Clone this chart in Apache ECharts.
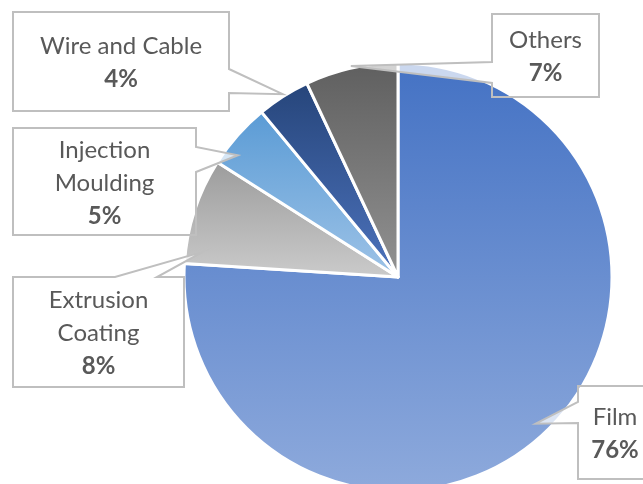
<!DOCTYPE html>
<html>
<head>
<meta charset="utf-8">
<script src="https://cdn.jsdelivr.net/npm/echarts@6/dist/echarts.min.js"></script>
<style>
  html, body { margin: 0; padding: 0; background: #fff; }
  #chart { width: 643px; height: 484px; }
</style>
</head>
<body>
<div id="chart"></div>
<script>
// Market share by application
const categories = ['Film', 'Extrusion Coating', 'Injection Moulding', 'Wire and Cable', 'Others'];
const shares = [76, 8, 5, 4, 7];

// Vertical gradient per slice: [top colour, bottom colour]
const sliceColors = [
  ['#4472c4', '#8eaadc'],
  ['#9c9c9c', '#cbcbcb'],
  ['#5a9bd5', '#9ec3e7'],
  ['#26457a', '#4d73bd'],
  ['#5f5f5f', '#929292']
];

// Callout boxes: rectangle, side carrying the pointer, pointer base span,
// pointer tip as (fraction through the slice, fraction of the radius)
const callouts = [
  { rect: [578, 386, 652, 479], side: 'left',  base: [402, 423], tip: [0.50, 0.94], wrap: false },
  { rect: [13, 277, 184, 387],  side: 'top',   base: [115, 157], tip: [0.13, 0.92], wrap: true },
  { rect: [13, 128, 196, 235],  side: 'right', base: [147, 172], tip: [0.27, 0.94], wrap: true },
  { rect: [13, 12, 229, 111],   side: 'right', base: [69, 93],   tip: [0.51, 1.01], wrap: false },
  { rect: [492, 14, 599, 97],   side: 'left',  base: [62, 83],   tip: [0.50, 1.01], wrap: false }
];

const textColor = '#595959';
const fontFamily = 'Lato, "Open Sans", sans-serif';

const chart = echarts.init(document.getElementById('chart'), null, { renderer: 'canvas' });

const data = categories.map((name, i) => ({
  name: name,
  value: shares[i],
  itemStyle: {
    color: new echarts.graphic.LinearGradient(0, 0, 0, 1, [
      { offset: 0, color: sliceColors[i][0] },
      { offset: 1, color: sliceColors[i][1] }
    ])
  }
}));

chart.setOption({
  animation: false,
  backgroundColor: '#ffffff',
  series: [{
    type: 'pie',
    center: [398, 277],
    radius: 214,
    startAngle: 90,
    clockwise: true,
    percentPrecision: 0,
    avoidLabelOverlap: false,
    data: data,
    itemStyle: { borderColor: '#ffffff', borderWidth: 3 },
    label: {
      show: true,
      position: 'outside',
      color: textColor,
      fontFamily: fontFamily,
      formatter: function (p) {
        const name = callouts[p.dataIndex].wrap ? p.name.replace(' ', '\n') : p.name;
        const lines = name.split('\n').map(s => '{n|' + s + '}').join('\n');
        return lines + '\n{p|' + p.percent + '%}';
      },
      rich: {
        n: { fontSize: 24, lineHeight: 33, color: textColor, fontFamily: fontFamily },
        p: { fontSize: 24, lineHeight: 33, fontWeight: 'bold', color: textColor, fontFamily: fontFamily }
      },
      align: 'center'
    },
    labelLine: { show: false },
    labelLayout: function (params) {
      const r = callouts[params.dataIndex].rect;
      return {
        x: (r[0] + r[2]) / 2,
        y: (r[1] + r[3]) / 2 + 1.5,
        align: 'center',
        verticalAlign: 'middle'
      };
    }
  }]
});

// Callout frames with pointers aimed into their slices
const seriesData = chart.getModel().getSeriesByIndex(0).getData();
const graphics = [];
callouts.forEach((c, i) => {
  const lay = seriesData.getItemLayout(i);
  const ang = lay.startAngle + c.tip[0] * (lay.endAngle - lay.startAngle);
  const tip = [lay.cx + c.tip[1] * lay.r * Math.cos(ang), lay.cy + c.tip[1] * lay.r * Math.sin(ang)];
  const [x0, y0, x1, y1] = c.rect;
  const [b0, b1] = c.base;
  let outline, a, b;
  if (c.side === 'right') {
    a = [x1, b0]; b = [x1, b1];
    outline = [[x0, y0], [x1, y0], a, tip, b, [x1, y1], [x0, y1]];
  } else if (c.side === 'left') {
    a = [x0, b1]; b = [x0, b0];
    outline = [[x0, y0], [x1, y0], [x1, y1], [x0, y1], a, tip, b];
  } else {
    a = [b0, y0]; b = [b1, y0];
    outline = [[x0, y0], a, tip, b, [x1, y0], [x1, y1], [x0, y1]];
  }
  graphics.push({
    type: 'polygon',
    z: 50,
    shape: { points: [a, tip, b] },
    style: { fill: 'rgba(255,255,255,0.72)', stroke: null }
  });
  graphics.push({
    type: 'polygon',
    z: 51,
    shape: { points: outline },
    style: { fill: null, stroke: '#bfbfbf', lineWidth: 2, lineJoin: 'miter' }
  });
});
chart.setOption({ graphic: graphics });
</script>
</body>
</html>
